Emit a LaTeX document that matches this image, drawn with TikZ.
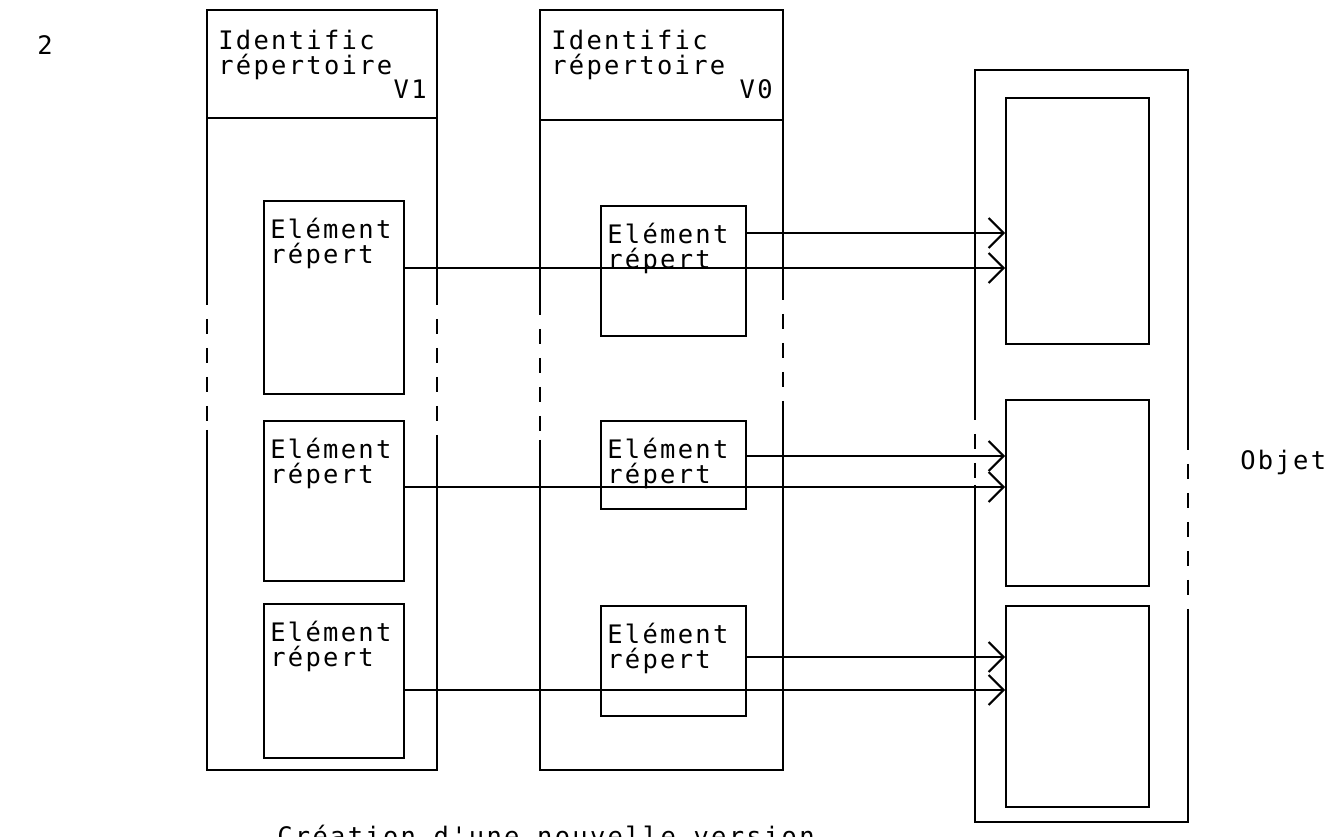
\documentclass[tikz,border=0pt]{standalone}
\usepackage{fontspec}
\setmonofont[LetterSpace=9]{DejaVu Sans Mono}
\usetikzlibrary{arrows.meta}

\begin{document}
\begin{tikzpicture}
[x=0.02cm,y=-0.02cm,
txt/.style={font=\ttfamily\fontsize{14.5}{14.2}\selectfont, inner sep=0pt, align=left},
elem/.style={draw, line width=1.3pt, minimum width=2.8cm, anchor=north west, inner sep=0pt},
objbox/.style={draw, line width=1.3pt, minimum width=2.86cm, anchor=north west, inner sep=0pt},
cadre/.style={line width=1.3pt},
pointill/.style={line width=1.3pt, dash pattern=on 0.3cm off 0.28cm},
fl/.style={-{Straight Barb[length=0.3cm,width=0.6cm,line width=1.2pt]}, line width=1pt}]
\clip (0,0) rectangle (1333,837);
\useasboundingbox (0,0) rectangle (1333,837);

\node[txt] (num) at (45,45) {2};

% repertoire V1
\draw[cadre] (207,290) -- (207,10) -- (437,10) -- (437,290);
\draw[pointill] (207,290) -- (207,430);
\draw[pointill] (437,290) -- (437,440);
\draw[cadre] (207,430) -- (207,770) -- (437,770) -- (437,440);
\draw[cadre] (207,118) -- (437,118);
\node[txt,anchor=north west] (id1) at (218,30) {Identific\\répertoire};
\node[txt,anchor=base east] (v1) at (427,99) {V1};

\node[elem,minimum height=3.86cm] (e1a) at (263,200) {};
\node[elem,minimum height=3.2cm] (e1b) at (263,420) {};
\node[elem,minimum height=3.08cm] (e1c) at (263,603) {};

% repertoire V0
\draw[cadre] (540,300) -- (540,10) -- (783,10) -- (783,285);
\draw[pointill] (540,300) -- (540,440);
\draw[pointill] (783,285) -- (783,415);
\draw[cadre] (540,440) -- (540,770) -- (783,770) -- (783,415);
\draw[cadre] (540,120) -- (783,120);
\node[txt,anchor=north west] (id0) at (551,30) {Identific\\répertoire};
\node[txt,anchor=base east] (v0) at (773,99) {V0};

\node[elem,minimum width=2.9cm,minimum height=2.6cm] (e0a) at (600,205) {};
\node[elem,minimum width=2.9cm,minimum height=1.76cm] (e0b) at (600,420) {};
\node[elem,minimum width=2.9cm,minimum height=2.2cm] (e0c) at (600,605) {};

% textes des elements
\foreach \e in {e1a,e1b,e1c,e0a,e0b,e0c}
  \node[txt,anchor=north west] at ([xshift=0.14cm,yshift=-0.36cm]\e.north west) {Elément\\répert};

% objet
\draw[cadre] (975,405) -- (975,70) -- (1188,70) -- (1188,435);
\draw[pointill] (975,405) -- (975,485);
\draw[pointill] (1188,435) -- (1188,610);
\draw[cadre] (975,485) -- (975,822) -- (1188,822) -- (1188,610);

\node[objbox,minimum height=4.92cm] (o1) at (1005,97) {};
\node[objbox,minimum height=3.72cm] (o2) at (1005,399) {};
\node[objbox,minimum height=4.02cm] (o3) at (1005,605) {};

\node[txt,anchor=west] (obj) at (1240,462) {Objet};

% fleches
\draw[fl] (e0a.east |- 0,233) -- (o1.west |- 0,233);
\draw[fl] (e1a.east |- 0,268) -- (o1.west |- 0,268);
\draw[fl] (e0b.east |- 0,456) -- (o2.west |- 0,456);
\draw[fl] (e1b.east |- 0,487) -- (o2.west |- 0,487);
\draw[fl] (e0c.east |- 0,657) -- (o3.west |- 0,657);
\draw[fl] (e1c.east |- 0,690) -- (o3.west |- 0,690);

\node[txt,anchor=base west] (titre) at (277,846) {Création d'une nouvelle version};
\end{tikzpicture}
\end{document}
